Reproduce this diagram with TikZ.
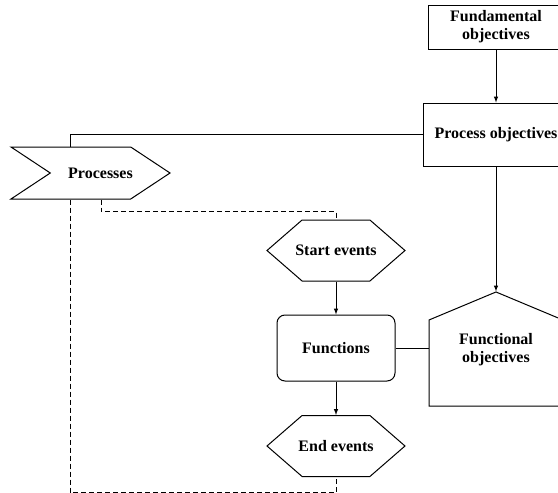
\documentclass[tikz,border=0pt]{standalone}
\usepackage{fontspec}
\setmainfont{Liberation Serif}
\usetikzlibrary{shapes.symbols}

\begin{document}
\begin{tikzpicture}[x = 1pt, y = -1pt, >=latex, line width = 1pt,
	every node/.style = {font = \fontsize{16}{18}\selectfont\bfseries, align = center},
	box/.style = {draw, fill = white, inner sep = 0pt},
	hexa/.style = {box, signal, signal to = east and west, signal pointer angle = 82,
		minimum width = 138pt, minimum height = 61pt},
	dashline/.style = {dash pattern = on 5pt off 3pt}]
	\clip (0,0) rectangle (558,493);
	
	\node[box, minimum width = 136pt, minimum height = 44pt](fund) at (496,27) {Fundamental\\objectives};
	\node[box, minimum width = 146pt, minimum height = 63pt](po) at (496,134.5) {Process objectives};
	\node[box, signal, signal from = west, signal to = east, signal pointer angle = 67,
		minimum width = 159pt, minimum height = 52pt,
		label = {[xshift = 10pt]center:Processes}](proc) at (90.5,173) {};
	\node[hexa, label = center:Start events](start) at (336,250.5) {};
	\node[box, rounded corners = 8pt, minimum width = 118pt, minimum height = 66pt](fn) at (336,348) {Functions};
	\node[hexa, label = center:End events](end) at (336,446) {};
	\node[box, signal, signal to = north, signal pointer angle = 134.6,
		minimum width = 134pt, minimum height = 86pt,
		label = {[yshift = 13pt]center:Functional\\objectives}](fo) at (496,363) {};
	
	\draw[->] (fund.south) -- (po.north);
	\draw[->] (po.south) -- (fo.north);
	\draw (po.west) -| ([xshift = -20.5pt]proc.north);
	\draw[->] (start.south) -- (fn.north);
	\draw[->] (fn.south) -- (end.north);
	\draw (fn.east) -- (fn.east -| fo.west);
	
	\draw[dashline] ([xshift = 10.5pt]proc.south) -- ++(0,12) -| (start.north);
	\draw[dashline] ([xshift = -20.5pt]proc.south) -- ++(0,293) -| (end.south);
	\end{tikzpicture}
\end{document}
